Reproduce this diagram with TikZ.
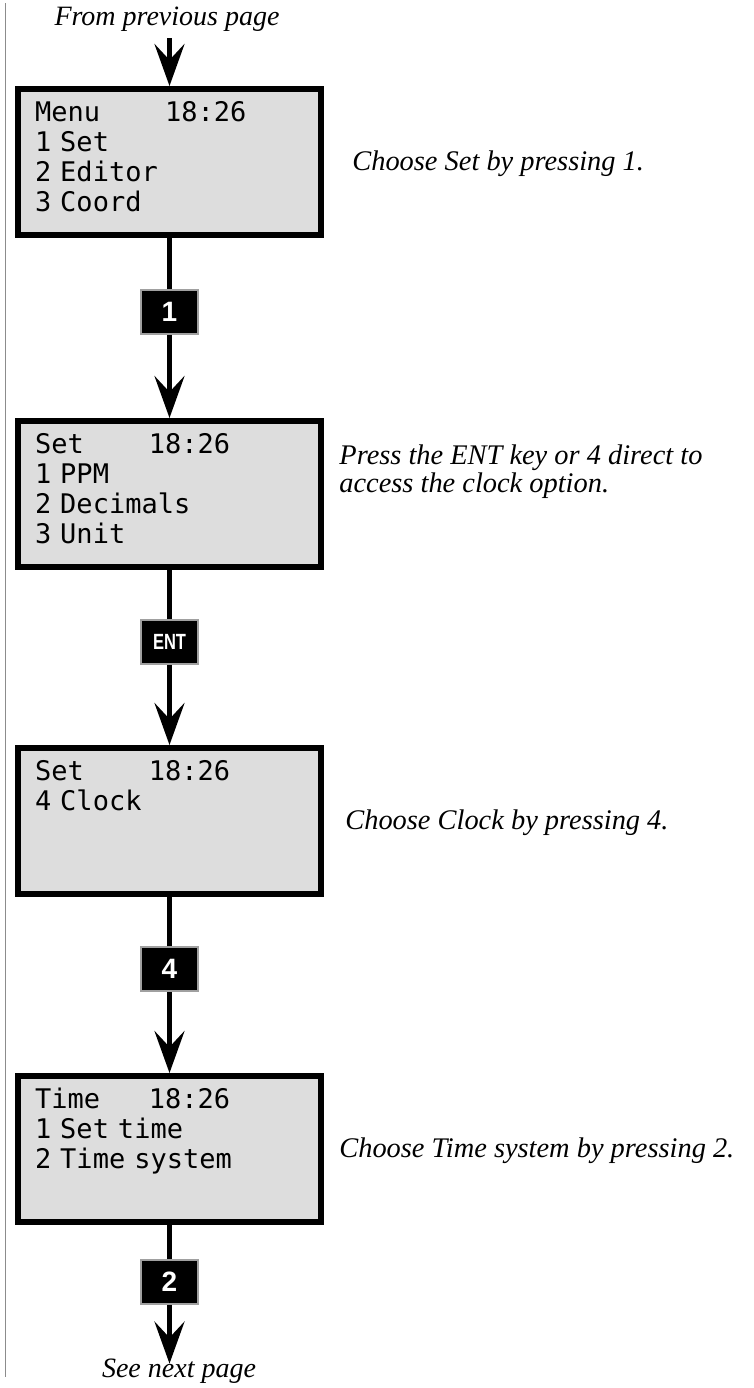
\documentclass[tikz,border=0pt]{standalone}
\usepackage{graphicx}
\usepackage{fontspec}
\setmainfont{Liberation Serif}
\setsansfont{Liberation Sans}
\setmonofont{DejaVu Sans Mono}
\usetikzlibrary{arrows.meta, positioning}
\definecolor{lcdgray}{HTML}{DDDDDD}
\definecolor{keyrim}{HTML}{A0A0A0}
\definecolor{marginline}{HTML}{8C8C8C}
\tikzset{
  screen/.style={draw=black, line width=3pt, fill=lcdgray, inner xsep=8.5pt, inner ysep=0pt,
                 text width=134.5pt, align=left, text height=16pt, text depth=57pt,
                 font=\ttfamily\fontsize{13.5}{15}\selectfont},
  keybox/.style={draw=keyrim, line width=1pt, fill=black, text=white, inner sep=0pt,
                 minimum width=28.5pt, minimum height=22pt,
                 font=\sffamily\bfseries\fontsize{14}{14}\selectfont},
  note/.style={anchor=base west, align=left, inner sep=0pt,
               font=\itshape\fontsize{14.2}{14}\selectfont},
  flow/.style={line width=2.5pt, -{Stealth[length=21pt, width=15pt, inset=8pt]}},
}
\newcommand{\entkey}{\scalebox{0.75}[1]{\fontsize{11}{11}\selectfont ENT}}

\begin{document}
\begin{tikzpicture}[x=0.5pt, y=0.5pt,
    pagenote/.style={anchor=base, font=\itshape\fontsize{14}{14}\selectfont}]
  \useasboundingbox (0,0) rectangle (754,-1388);
  % margin rule
  \draw[marginline, line width=0.5pt] (5,-3) -- (5,-1377);

  \node[pagenote] (prev) at (167,-25) {From previous page};
  \node[pagenote, inner sep=1pt, text height=5.5pt] (next) at (179,-1377) {See next page};

  % display screens
  \node[screen] (menu) at (169.5,-162)
    {Menu\hphantom{0000}18:26\\1 Set\\2 Editor\\3 Coord};
  \node[screen] (set) at (169.5,-494)
    {Set\hphantom{0000}18:26\\1 PPM\\2 Decimals\\3 Unit};
  \node[screen] (clock) at (169.5,-821)
    {Set\hphantom{0000}18:26\\4 Clock};
  \node[screen] (time) at (169.5,-1149)
    {Time\hphantom{000}18:26\\1 Set time\\2 Time system};

  % explanations
  \node[note] (n1) at (352,-170) {Choose Set by pressing 1.};
  \node[note] (n2) at (339,-492) {Press the ENT key or 4 direct to\\access the clock option.};
  \node[note] (n3) at (345,-829) {Choose Clock by pressing 4.};
  \node[note] (n4) at (339,-1157) {Choose Time system by pressing 2.};

  % key presses
  \draw[flow] (menu.north |- prev.south) -- (menu.north);
  \draw[flow] (menu.south) -- node[keybox, pos=0.41] (k1) {1} (set.north);
  \draw[flow] (set.south) -- node[keybox, pos=0.41] (kent) {\entkey} (clock.north);
  \draw[flow] (clock.south) -- node[keybox, pos=0.41] (k4) {4} (time.north);
  \draw[flow] (time.south) -- node[keybox, pos=0.41] (k2) {2} (time.south |- next.north);
\end{tikzpicture}
\end{document}
